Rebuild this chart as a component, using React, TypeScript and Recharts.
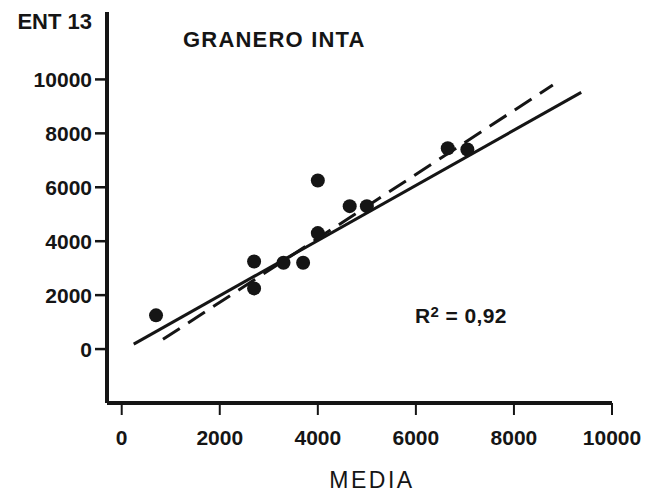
import React from "react";
import {
  ScatterChart,
  Scatter,
  XAxis,
  YAxis,
  ReferenceLine,
} from "recharts";

// Yield of the line (ENT 13) against the environment mean (MEDIA)
const mediaValues = [700, 2700, 2700, 3300, 3700, 4000, 4000, 4650, 5000, 6650, 7050];
const entValues = [1250, 3250, 2250, 3200, 3200, 6250, 4300, 5300, 5300, 7450, 7400];

// Fitted regression (solid) and reference line (dashed), as end points
const fitLine = [
  { x: 245, y: 185 },
  { x: 9372, y: 9518 },
];
const dashedLine = [
  { x: 842, y: 360 },
  { x: 8793, y: 9789 },
];

const xTicks = [0, 2000, 4000, 6000, 8000, 10000];
const yTicks = [0, 2000, 4000, 6000, 8000, 10000];

const points = mediaValues.map((m, i) => ({ media: m, ent: entValues[i] }));

const FONT = "'Liberation Sans', Arial, Helvetica, sans-serif";
const INK = "#151515";

const Dot = (props: any) => (
  <circle cx={props.cx} cy={props.cy} r={7} fill={INK} />
);

export default function App() {
  return (
    <div style={{ width: 645, height: 485, background: "#fff", fontFamily: FONT }}>
      <ScatterChart
        width={645}
        height={485}
        margin={{ top: 4, right: 41, bottom: 0, left: 0 }}
      >
        <XAxis
          type="number"
          dataKey="media"
          domain={[-300, 10000]}
          ticks={xTicks}
          allowDataOverflow
          height={90}
          axisLine={{ stroke: INK, strokeWidth: 4 }}
          tickLine={{ stroke: INK, strokeWidth: 2 }}
          tickSize={12}
          tickMargin={15}
          tick={{ fill: INK, fontSize: 21, fontWeight: 700, fontFamily: FONT }}
        />
        <YAxis
          type="number"
          dataKey="ent"
          domain={[-2000, 12500]}
          ticks={yTicks}
          allowDataOverflow
          width={99}
          axisLine={{ stroke: INK, strokeWidth: 4 }}
          tickLine={{ stroke: INK, strokeWidth: 2.5 }}
          tickSize={12}
          tickMargin={3}
          tick={{ fill: INK, fontSize: 21, fontWeight: 700, fontFamily: FONT }}
        />
        <ReferenceLine
          segment={dashedLine}
          stroke={INK}
          strokeWidth={3}
          strokeDasharray="20 10"
          ifOverflow="visible"
        />
        <ReferenceLine
          segment={fitLine}
          stroke={INK}
          strokeWidth={3}
          ifOverflow="visible"
        />
        <Scatter data={points} shape={<Dot />} isAnimationActive={false} />
        <g fontFamily={FONT} fill={INK}>
          <text x={84} y={21} textAnchor="end" fontSize={22} fontWeight={700}>
            ENT 13
          </text>
          <text x={175} y={39} fontSize={22} fontWeight={700} letterSpacing={1.2}>
            GRANERO INTA
          </text>
          <text x={407} y={315} fontSize={21} fontWeight={700} letterSpacing={0.4}>
            R
            <tspan fontSize={15} dy={-6}>2</tspan>
            <tspan dy={6}> = 0,92</tspan>
          </text>
          <text x={364} y={480} textAnchor="middle" fontSize={23} letterSpacing={2.5}>
            MEDIA
          </text>
        </g>
      </ScatterChart>
    </div>
  );
}
